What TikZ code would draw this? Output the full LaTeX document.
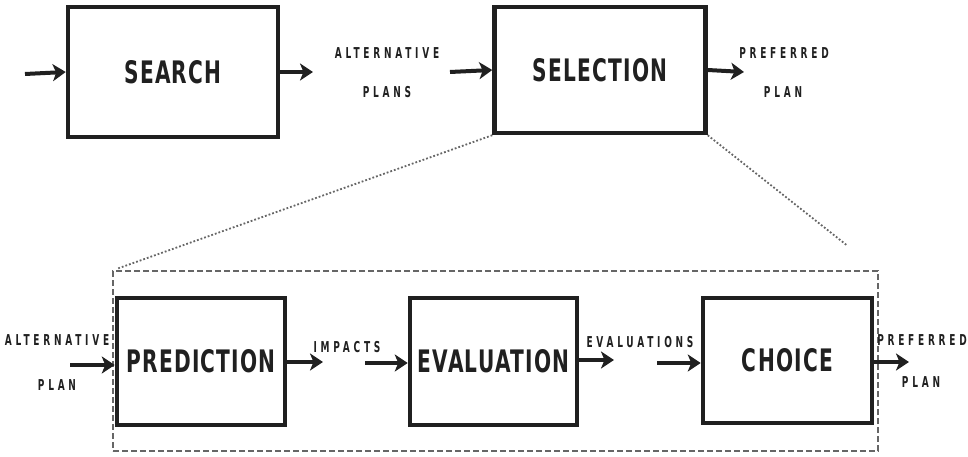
\documentclass[tikz,border=0pt]{standalone}
\usepackage{fontspec}
\usetikzlibrary{arrows.meta}
\newfontfamily\boxfont[FakeStretch=0.65,LetterSpace=4]{DejaVu Sans}
\newfontfamily\labfont[FakeStretch=0.6,LetterSpace=25]{DejaVu Sans}
\definecolor{ink}{HTML}{202020}
\definecolor{faint}{HTML}{666666}
\begin{document}
\begin{tikzpicture}[x=1pt,y=-1pt,
  stage/.style={draw=ink,line width=4.5pt,minimum width=#1,text=ink,font=\boxfont\bfseries\fontsize{31}{33}\selectfont,inner sep=0pt},
  stage/.default=168pt,
  lab/.style={text=ink,font=\labfont\bfseries\fontsize{15}{17}\selectfont,inner sep=0pt},
  flow/.style={draw=ink,line width=4pt,-{Stealth[length=13pt,width=17pt,inset=3.5pt]}},
  zoomline/.style={draw=faint,line width=1.8pt,dotted},
  frame/.style={draw=faint,line width=1.2pt,dash pattern=on 6pt off 3pt}]
\useasboundingbox (0,0) rectangle (968,457);
% top row
\node[stage=210pt,minimum height=130pt] (search) at (173,72) {SEARCH};
\node[stage=211pt,minimum height=126pt] (selection) at (600,70) {SELECTION};
\coordinate (in0) at (25,74);
\coordinate (out0) at (313,72);
\coordinate (in1) at (450,72);
\coordinate (out1) at (744,72);
\draw[flow] (in0) -- (search.west);
\draw[flow] (search.east) -- (out0);
\draw[flow] (in1) -- (selection.west);
\draw[flow] (selection.east) -- (out1);
\node[lab] (altA) at (387,53) {ALTERNATIVE};
\node[lab] (plansA) at (387,92) {PLANS};
\node[lab] (prefA) at (784,53) {PREFERRED};
\node[lab] (planA) at (783,92) {PLAN};
% frame
\node[frame,minimum width=765pt,minimum height=180pt,inner sep=0pt] (frm) at (495.5,361) {};
\draw[zoomline,shorten >=6pt] (selection.south west) -- (frm.north west);
\draw[zoomline,shorten >=40pt] (selection.south east) -- (frm.north east);
% bottom row
\node[stage=168pt,minimum height=127pt] (pred) at (201,361.5) {PREDICTION};
\node[stage=167pt,minimum height=127pt] (eval) at (493.5,361.5) {EVALUATION};
\node[stage=169pt,minimum height=125pt] (choice) at (787.5,360.5) {CHOICE};
\coordinate (in2) at (70,365);
\coordinate (out2) at (323,362);
\coordinate (in3) at (365,363);
\coordinate (out3) at (614,360);
\coordinate (in4) at (657,363);
\coordinate (out4) at (909,362);
\draw[flow] (in2) -- (pred.west |- in2);
\draw[flow] (pred.east |- out2) -- (out2);
\draw[flow] (in3) -- (eval.west |- in3);
\draw[flow] (eval.east |- out3) -- (out3);
\draw[flow] (in4) -- (choice.west |- in4);
\draw[flow] (choice.east |- out4) -- (out4);
\node[lab] (altB) at (57,340) {ALTERNATIVE};
\node[lab] (planB) at (57,385) {PLAN};
\node[lab] (impacts) at (347,347) {IMPACTS};
\node[lab] (evals) at (640,342) {EVALUATIONS};
\node[lab] (prefB) at (922,340) {PREFERRED};
\node[lab] (planC) at (921,382) {PLAN};
\end{tikzpicture}
\end{document}
